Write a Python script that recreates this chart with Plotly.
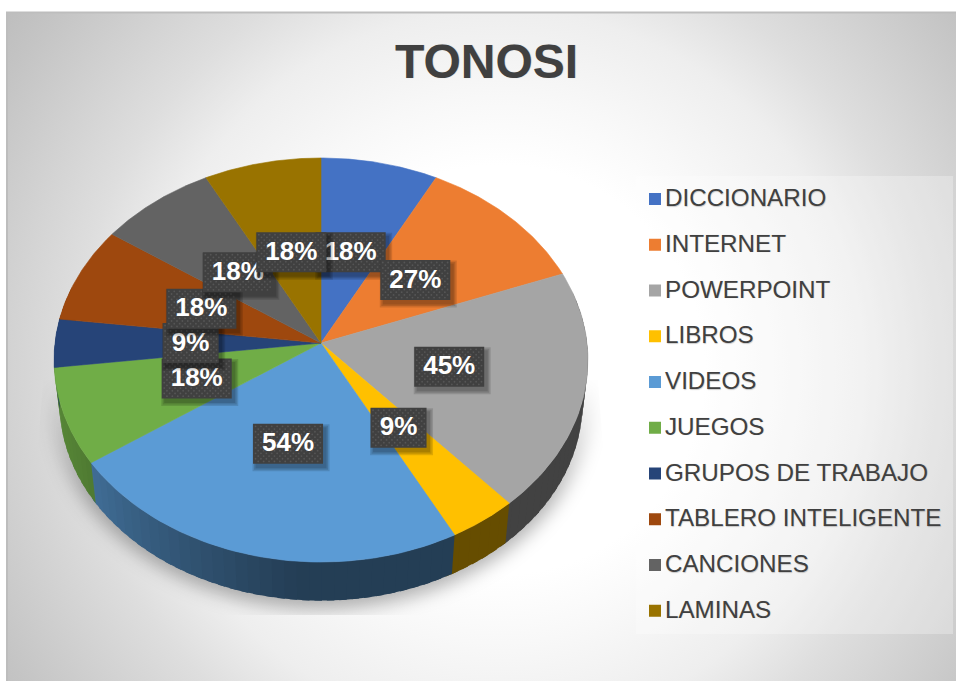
import base64
import numpy as np
import plotly.graph_objects as go

# --- data ---
CATEGORIES = ["DICCIONARIO", "INTERNET", "POWERPOINT", "LIBROS", "VIDEOS", "JUEGOS",
              "GRUPOS DE TRABAJO", "TABLERO INTELIGENTE", "CANCIONES", "LAMINAS"]
VALUES = [18, 27, 45, 9, 54, 18, 9, 18, 18, 18]
COLORS = ["#4472C4", "#ED7D31", "#A5A5A5", "#FFC000", "#5B9BD5", "#70AD47",
          "#264478", "#9E480E", "#636363", "#997300"]
TITLE = "TONOSI"

W, H = 956, 681
CX, CY = 321.0, 343.0
A, B, P = 266.0, 200.6, 0.0842
SIDE_SCALE, SIDE_DROP = 0.98, 43.0
TEXT = "#404040"


def project(theta_deg, r=1.0):
    t = np.radians(theta_deg)
    u, v = np.sin(t), np.cos(t)
    w = 1 + P * v
    return r * A * u / w, r * B * v / w


def top_xy(theta_deg, r=1.0):
    x, y = project(theta_deg, r)
    return CX + x, CY - y


def bottom_xy(theta_deg):
    x, y = project(theta_deg)
    return CX + SIDE_SCALE * x, CY + SIDE_DROP - SIDE_SCALE * y


def rgb(hexcol):
    return np.array([int(hexcol[i:i + 2], 16) for i in (1, 3, 5)], dtype=float)


def side_shade(theta):
    return float(np.interp(theta, [0, 185, 240, 265, 360], [0.40, 0.40, 0.73, 0.80, 0.80]))


edges = np.concatenate([[0], np.cumsum(VALUES)]) / sum(VALUES) * 360.0

svg = f'''<svg xmlns="http://www.w3.org/2000/svg" width="{W}" height="{H}" viewBox="0 0 {W} {H}">
<defs>
<radialGradient id="g" gradientUnits="userSpaceOnUse" cx="500" cy="370" r="620">
<stop offset="0" stop-color="#ffffff"/><stop offset="0.33" stop-color="#ffffff"/>
<stop offset="0.44" stop-color="#f8f8f8"/><stop offset="0.58" stop-color="#eeeeee"/>
<stop offset="0.69" stop-color="#dedede"/><stop offset="0.92" stop-color="#c4c4c4"/>
<stop offset="1" stop-color="#bcbcbc"/></radialGradient>
<linearGradient id="f" gradientUnits="userSpaceOnUse" x1="0" y1="380" x2="0" y2="500">
<stop offset="0" stop-color="#000000" stop-opacity="0"/>
<stop offset="1" stop-color="#000000" stop-opacity="0.30"/></linearGradient>
<filter id="b" x="-20%" y="-20%" width="140%" height="140%"><feGaussianBlur stdDeviation="9"/></filter>
<clipPath id="c"><polygon points="43,380 36,475 36,615 605,615 605,475 598,380"/></clipPath>
</defs>
<rect x="0" y="0" width="{W}" height="{H}" fill="#ffffff"/>
<rect x="6" y="12" width="{W - 6}" height="{H - 12}" fill="url(#g)"/>
<path d="M7 {H} V12.5 H{W}" fill="none" stroke="#bdbdbd" stroke-width="2"/>
<g clip-path="url(#c)"><ellipse cx="321" cy="392" rx="272" ry="217" fill="url(#f)" filter="url(#b)"/></g>
</svg>'''
bg_uri = "data:image/svg+xml;base64," + base64.b64encode(svg.encode()).decode()

fig = go.Figure()


def poly(xs, ys, fill, line=None, width=0.6, name=""):
    fig.add_trace(go.Scatter(x=xs, y=ys, mode="lines", fill="toself", fillcolor=fill,
                             line=dict(color=line or fill, width=width), name=name,
                             hoverinfo="skip", showlegend=False))


# side wall: each strip runs a little under the next one so no seams show
for i, col in enumerate(COLORS):
    lo, hi = max(edges[i], 75.0), min(edges[i + 1], 285.0)
    if hi <= lo:
        continue
    steps = np.arange(lo, hi, 2.5).tolist() + [hi]
    for a, b in zip(steps[:-1], steps[1:]):
        s = side_shade((a + b) / 2)
        c = rgb(col) * s
        cs = f"rgb({c[0]:.0f},{c[1]:.0f},{c[2]:.0f})"
        th = np.linspace(a, b + 1.5, 6)
        tx, ty = top_xy(th)
        bx, by = bottom_xy(th[::-1])
        poly(tx.tolist() + bx.tolist(), ty.tolist() + by.tolist(), cs, width=0)

# top face
for i, col in enumerate(COLORS):
    th = np.linspace(edges[i], edges[i + 1], 60)
    x, y = top_xy(th)
    poly([CX] + x.tolist() + [CX], [CY] + y.tolist() + [CY], col, name=CATEGORIES[i])

# data labels: shadow, box, dot texture, text, in series order
for i, v in enumerate(VALUES):
    mid = (edges[i] + edges[i + 1]) / 2
    lx, ly = top_xy(mid, 0.49 + 0.015 * np.cos(np.radians(mid)))
    lab = f"{v}%"
    bw = 70 if len(lab) == 3 else 56
    bh = 40
    x0, x1, y0, y1 = lx - bw / 2, lx + bw / 2, ly - bh / 2, ly + bh / 2
    for grow in (3.5, 2.0, 0.5):
        poly([x0 + 3 - grow, x1 + 3 + grow, x1 + 3 + grow, x0 + 3 - grow, x0 + 3 - grow],
             [y0 + 4 - grow, y0 + 4 - grow, y1 + 4 + grow, y1 + 4 + grow, y0 + 4 - grow],
             "rgba(0,0,0,0.13)", width=0)
    poly([x0, x1, x1, x0, x0], [y0, y0, y1, y1, y0], "#404040", width=0)
    dx, dy = [], []
    for r, yy in enumerate(np.arange(y0 + 2.5, y1 - 1, 2.7)):
        for xx in np.arange(x0 + 2.5 + (r % 2) * 2.7, x1 - 1, 5.4):
            dx.append(xx)
            dy.append(yy)
    fig.add_trace(go.Scatter(x=dx, y=dy, mode="markers", hoverinfo="skip", showlegend=False,
                             marker=dict(size=1.8, color="#565656", line=dict(width=0))))
    fig.add_trace(go.Scatter(x=[lx], y=[ly + 1], mode="text", text=[lab], hoverinfo="skip",
                             showlegend=False, textposition="middle center",
                             textfont=dict(family="Liberation Sans", size=26, color="#ffffff",
                                           weight="bold")))

# legend
LEG_X, LEG_TEXT_X, LEG_TOP, LEG_STEP = 655.0, 665.0, 199.0, 45.75
leg_y = [LEG_TOP + k * LEG_STEP for k in range(len(CATEGORIES))]
fig.add_trace(go.Scatter(
    x=[LEG_X] * len(CATEGORIES), y=leg_y, mode="markers", hoverinfo="skip", showlegend=False,
    marker=dict(symbol="square", size=12, color=COLORS, line=dict(width=0))))
fig.add_trace(go.Scatter(
    x=[LEG_TEXT_X] * len(CATEGORIES), y=[v + 1 for v in leg_y], mode="text", text=CATEGORIES,
    textposition="middle right", hoverinfo="skip", showlegend=False,
    textfont=dict(family="Liberation Sans", size=24.2, color=TEXT,
                  shadow="0.5px 0.5px 1px rgba(0,0,0,0.2)")))

axis = dict(visible=False, fixedrange=True)
fig.update_layout(
    width=W, height=H, margin=dict(l=0, r=0, t=0, b=0), showlegend=False,
    paper_bgcolor="rgba(0,0,0,0)", plot_bgcolor="rgba(0,0,0,0)",
    xaxis=dict(range=[0, W], **axis), yaxis=dict(range=[H, 0], **axis),
    title=dict(text=f"<b>{TITLE}</b>", x=486.5 / W, xanchor="center", xref="paper",
               y=1 - 61 / H, yanchor="middle", yref="paper",
               font=dict(family="Liberation Sans", size=48, color=TEXT,
                         shadow="0.5px 0.5px 1px rgba(0,0,0,0.2)")),
    images=[dict(source=bg_uri, xref="paper", yref="paper", x=0, y=1, sizex=1, sizey=1,
                 xanchor="left", yanchor="top", sizing="stretch", layer="below")],
    shapes=[dict(type="rect", x0=636, x1=953, y0=176, y1=634, xref="x", yref="y",
                 fillcolor="rgba(255,255,255,0.28)", line=dict(width=0), layer="below")],
)

fig.write_html("out.html", config={"displayModeBar": False},
               post_script="document.body.style.margin='0';document.documentElement.style.overflow='hidden';")
